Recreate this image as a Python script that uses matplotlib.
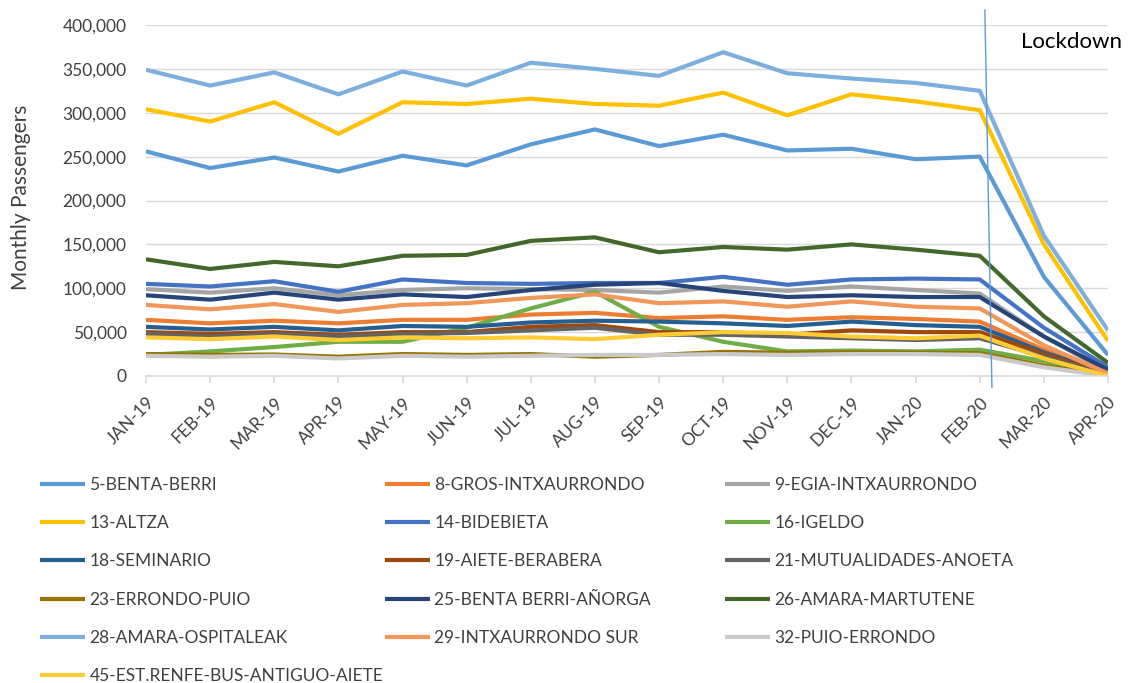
import matplotlib
matplotlib.use("Agg")
import matplotlib.pyplot as plt
from matplotlib.ticker import FuncFormatter

plt.rcParams['font.family'] = ['Lato', 'DejaVu Sans']

months = ["JAN-19", "FEB-19", "MAR-19", "APR-19", "MAY-19", "JUN-19", "JUL-19", "AUG-19",
          "SEP-19", "OCT-19", "NOV-19", "DEC-19", "JAN-20", "FEB-20", "MAR-20", "APR-20"]

s5_benta_berri = [256000, 237000, 249000, 233000, 251000, 240000, 264000, 281000, 262000, 275000, 257000, 259000, 247000, 250000, 113000, 24000]
s8_gros = [64000, 60000, 63000, 60000, 64000, 64000, 70000, 72000, 66000, 68000, 64000, 67000, 65000, 62000, 30000, 2000]
s9_egia = [99000, 95000, 100000, 92000, 98000, 100000, 99000, 98000, 95000, 102000, 97000, 102000, 98000, 94000, 45000, 5000]
s13_altza = [304000, 290000, 312000, 276000, 312000, 310000, 316000, 310000, 308000, 323000, 297000, 321000, 313000, 303000, 150000, 40000]
s14_bidebieta = [105000, 102000, 108000, 96000, 110000, 106000, 105000, 106000, 106000, 113000, 104000, 110000, 111000, 110000, 55000, 10000]
s16_igeldo = [24000, 28000, 33000, 39000, 39000, 55000, 77000, 96000, 56000, 39000, 28000, 29000, 28000, 30000, 17000, 2000]
s18_seminario = [56000, 53000, 56000, 52000, 57000, 56000, 61000, 63000, 62000, 60000, 57000, 62000, 58000, 56000, 27000, 3000]
s19_aiete = [50000, 48000, 50000, 47000, 50000, 50000, 56000, 58000, 50000, 50000, 47000, 52000, 50000, 50000, 25000, 2000]
s21_mutualidades = [48000, 45000, 48000, 45000, 48000, 49000, 52000, 55000, 47000, 47000, 45000, 43000, 41000, 43000, 22000, 1000]
s23_errondo = [25000, 24000, 24500, 22000, 25000, 24000, 25000, 22000, 24000, 27500, 26500, 27000, 26500, 26000, 12000, 0]
s25_benta_aniorga = [92000, 87000, 95000, 87000, 93000, 90000, 98000, 104000, 106000, 97000, 90000, 92000, 90000, 90000, 45000, 7000]
s26_amara_martutene = [133000, 122000, 130000, 125000, 137000, 138000, 154000, 158000, 141000, 147000, 144000, 150000, 144000, 137000, 68000, 15000]
s28_amara_ospitaleak = [349000, 331000, 346000, 321000, 347000, 331000, 357000, 350000, 342000, 369000, 345000, 339000, 334000, 325000, 160000, 52000]
s29_intxaurrondo_sur = [81000, 76000, 82000, 73000, 81000, 83000, 89000, 93000, 83000, 85000, 79000, 85000, 79000, 77000, 35000, 3000]
s32_puio = [23000, 22000, 23000, 20000, 23000, 22000, 23000, 24000, 24000, 25000, 24000, 25000, 25000, 24000, 10000, 0]
s45_renfe = [44000, 42000, 45000, 41000, 44000, 43000, 44000, 42000, 47000, 50000, 49000, 45000, 43000, 46000, 20000, 0]

names = ["5-BENTA-BERRI", "8-GROS-INTXAURRONDO", "9-EGIA-INTXAURRONDO", "13-ALTZA", "14-BIDEBIETA",
         "16-IGELDO", "18-SEMINARIO", "19-AIETE-BERABERA", "21-MUTUALIDADES-ANOETA", "23-ERRONDO-PUIO",
         "25-BENTA BERRI-AÑORGA", "26-AMARA-MARTUTENE", "28-AMARA-OSPITALEAK", "29-INTXAURRONDO SUR",
         "32-PUIO-ERRONDO", "45-EST.RENFE-BUS-ANTIGUO-AIETE"]
series = [s5_benta_berri, s8_gros, s9_egia, s13_altza, s14_bidebieta, s16_igeldo, s18_seminario,
          s19_aiete, s21_mutualidades, s23_errondo, s25_benta_aniorga, s26_amara_martutene,
          s28_amara_ospitaleak, s29_intxaurrondo_sur, s32_puio, s45_renfe]
colors = ["#5B9BD5", "#ED7D31", "#A5A5A5", "#FFC000", "#4472C4", "#70AD47", "#255E91", "#9E480E",
          "#636363", "#997300", "#264478", "#43682B", "#7CAFDD", "#F1975A", "#C9C9C9", "#FFCD33"]

W, H = 1133, 683
fig = plt.figure(figsize=(W / 100, H / 100), dpi=100)
ax = fig.add_axes([146 / W, 1 - 376 / H, (1108 - 146) / W, (376 - 25) / H])

x = list(range(len(months)))
lines = []
for name, vals, c in zip(names, series, colors):
    ln, = ax.plot(x, vals, color=c, lw=3.0, solid_joinstyle='round', solid_capstyle='butt', label=name)
    lines.append(ln)

ax.set_xlim(0, len(months) - 1)
ax.set_ylim(0, 400000)
ax.set_yticks(range(0, 400001, 50000))
ax.yaxis.set_major_formatter(FuncFormatter(lambda v, p: f"{int(v):,}"))
ax.grid(axis='y', color='#D9D9D9', lw=1)
ax.set_axisbelow(True)
for s in ['top', 'right', 'left']:
    ax.spines[s].set_visible(False)
ax.spines['bottom'].set_color('#D9D9D9')
ax.spines['bottom'].set_linewidth(1.2)
ax.tick_params(axis='y', length=0, pad=14, labelsize=12.5, labelcolor='#404040')
ax.tick_params(axis='x', length=5, width=1.2, color='#D9D9D9', pad=8, labelsize=12.5, labelcolor='#404040')
ax.set_xticks(x)
ax.set_xticklabels(months, rotation=45, ha='right', rotation_mode='anchor')
fig.text(21 / W, 1 - 197 / H, "Monthly Passengers", fontsize=15, color='#404040',
         rotation=90, ha='center', va='center')

# Lockdown marker
ax.plot([13.08, 13.19], [417000, -13000], color='#5B9BD5', lw=1.0, clip_on=False, zorder=5)
ax.text(13.64, 381000, "Lockdown", fontsize=16, color='black', va='center', ha='left')

# Legend in three columns (row-major order)
leg_x = [40, 385, 725]
for col in range(3):
    hs = [lines[i] for i in range(col, len(lines), 3)]
    fig.legend(handles=hs, labels=[h.get_label() for h in hs],
               loc='upper left', bbox_to_anchor=(leg_x[col] / W, 1 - 477 / H),
               frameon=False, fontsize=12.5, handlelength=2.6, handletextpad=0.25,
               labelspacing=1.28, borderaxespad=0, borderpad=0, labelcolor='#404040')

fig.savefig("out.png", dpi=100)
